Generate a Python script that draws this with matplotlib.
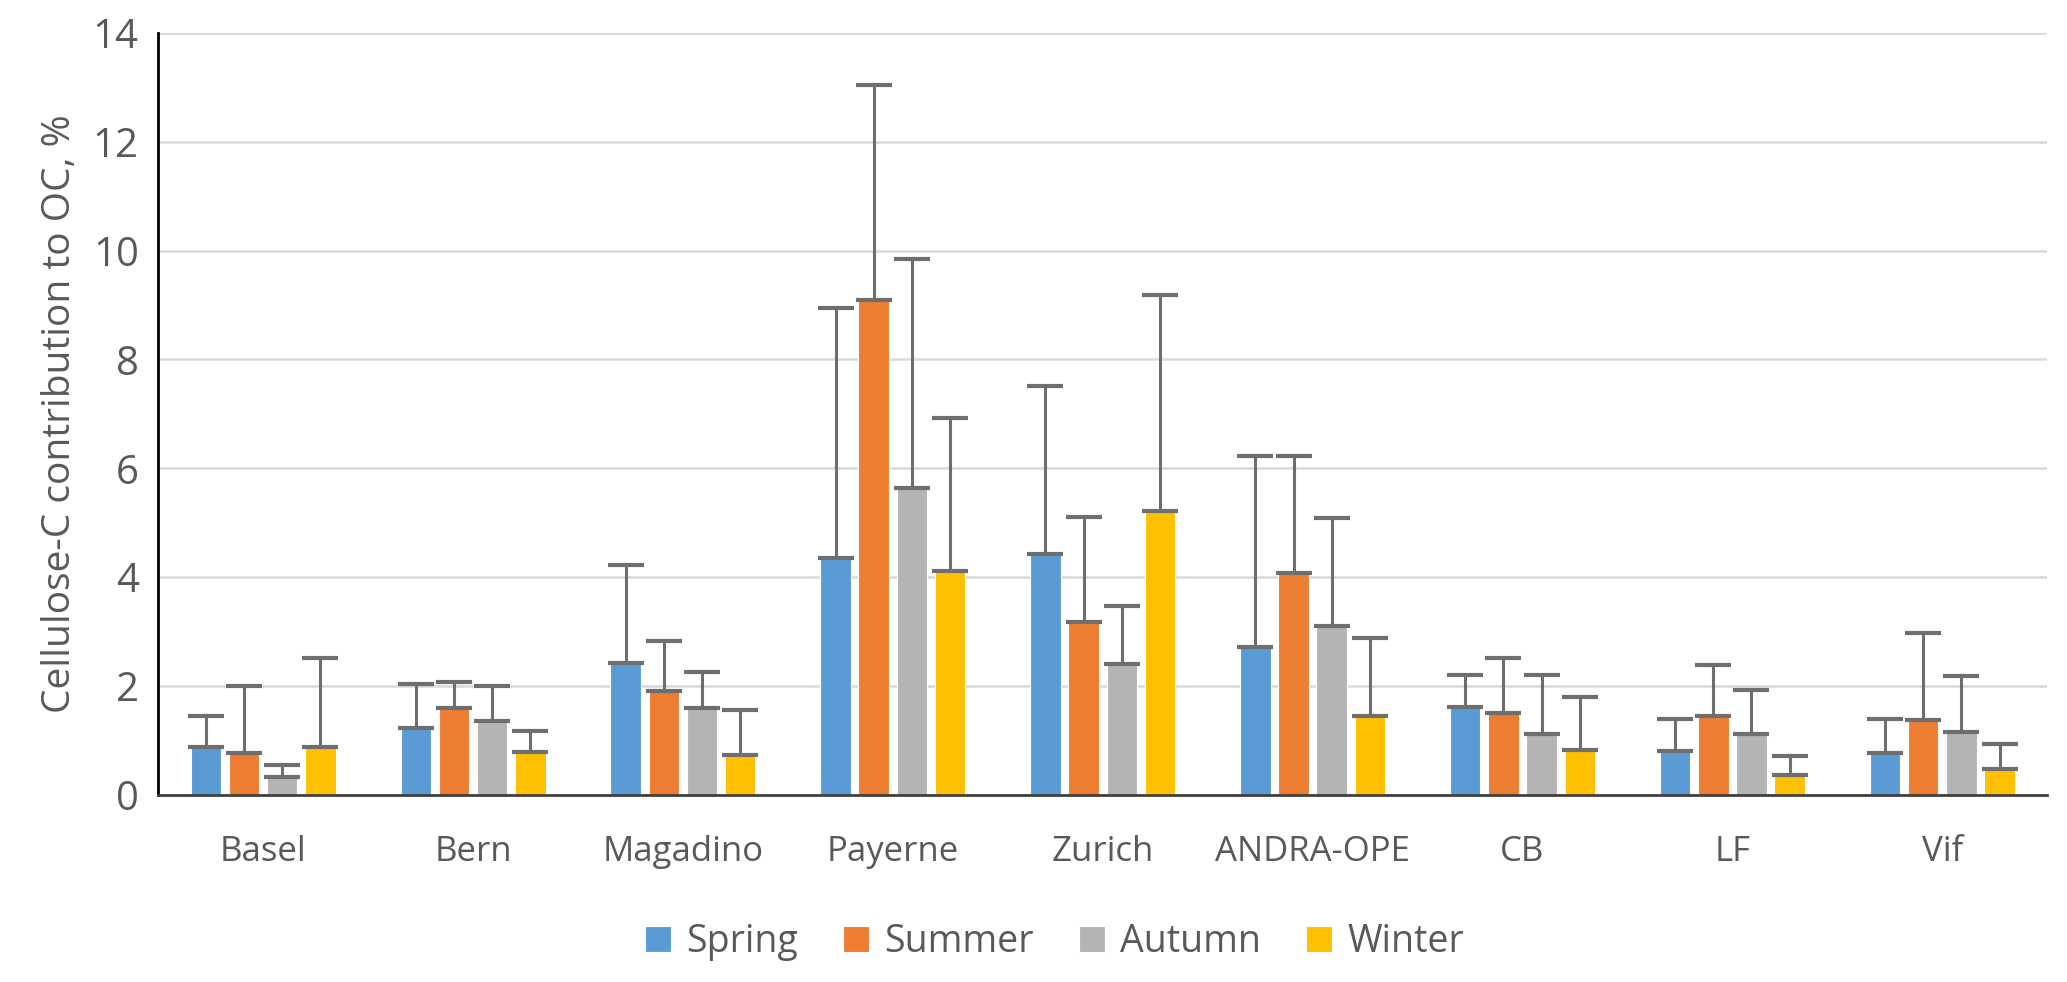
import numpy as np
import matplotlib.pyplot as plt

sites = ["Basel", "Bern", "Magadino", "Payerne", "Zurich", "ANDRA-OPE", "CB", "LF", "Vif"]
seasons = ["Spring", "Summer", "Autumn", "Winter"]

spring = [0.87, 1.23, 2.43, 4.35, 4.42, 2.72, 1.62, 0.80, 0.77]
summer = [0.77, 1.60, 1.90, 9.10, 3.18, 4.07, 1.50, 1.45, 1.37]
autumn = [0.33, 1.35, 1.60, 5.63, 2.40, 3.10, 1.12, 1.12, 1.15]
winter = [0.87, 0.78, 0.73, 4.12, 5.22, 1.45, 0.83, 0.37, 0.47]

# upper end of the error bars
spring_top = [1.45, 2.03, 4.23, 8.95, 7.52, 6.22, 2.20, 1.40, 1.40]
summer_top = [2.00, 2.07, 2.82, 13.05, 5.10, 6.22, 2.52, 2.38, 2.98]
autumn_top = [0.55, 2.00, 2.25, 9.85, 3.47, 5.08, 2.20, 1.92, 2.18]
winter_top = [2.52, 1.17, 1.55, 6.92, 9.18, 2.88, 1.80, 0.72, 0.93]

colors = ["#5B9BD5", "#ED7D31", "#B4B4B4", "#FFC000"]

plt.rcParams['font.family'] = ['Open Sans', 'DejaVu Sans']

# layout measured on a 1568 x 745 view of the reference
W, H = 1568, 745
fig = plt.figure(figsize=(20.67, 9.82), dpi=100)
ax = fig.add_axes([120 / W, 1 - 603 / H, (1553 - 120) / W, (603 - 25) / H])

x = np.arange(len(sites))
step = 0.182
width = 0.145
vals = [spring, summer, autumn, winter]
tops = [spring_top, summer_top, autumn_top, winter_top]
for i, (v, t) in enumerate(zip(vals, tops)):
    v = np.array(v)
    err = np.array(t) - v
    ax.bar(x + (i - 1.5) * step, v, width, color=colors[i], label=seasons[i],
           edgecolor="white", linewidth=0.8, zorder=2,
           yerr=[np.zeros_like(err), err], capsize=13,
           error_kw=dict(ecolor="#6E6E6E", elinewidth=2.2, capthick=3, zorder=3))

ax.set_xlim(-0.5, len(sites) - 0.5)
ax.set_ylim(0, 14)
ax.set_yticks(range(0, 15, 2))
ax.set_xticks(x)
ax.set_xticklabels(sites)
ax.tick_params(axis="y", labelsize=29, colors="#595959", length=0, pad=14)
ax.tick_params(axis="x", labelsize=25, colors="#595959", length=0, pad=29)
ax.grid(axis="y", color="#D9D9D9", linewidth=1.8, zorder=0)
ax.set_axisbelow(True)
for s in ["top", "right"]:
    ax.spines[s].set_visible(False)
ax.spines["left"].set_color("black")
ax.spines["left"].set_linewidth(2)
ax.spines["bottom"].set_color("#404040")
ax.spines["bottom"].set_linewidth(2)
ax.set_ylabel("Cellulose-C contribution to OC, %", fontsize=28, color="#595959", labelpad=10)

fig.legend(*ax.get_legend_handles_labels(), loc="center", bbox_to_anchor=(800 / W, 1 - 715 / H),
           ncol=4, frameon=False, fontsize=27, labelcolor="#595959",
           handlelength=0.7, handleheight=0.7, columnspacing=1.2, handletextpad=0.4)

fig.savefig("out.png", dpi=100)
